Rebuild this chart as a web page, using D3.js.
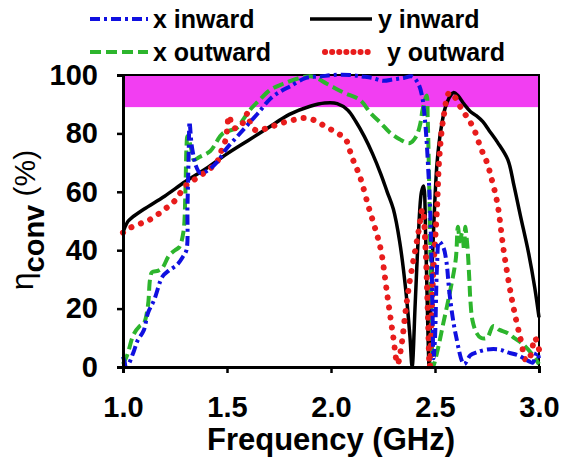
<!DOCTYPE html>
<html lang="en">
<head>
<meta charset="utf-8">
<title>Conversion efficiency</title>
<script src="https://cdn.jsdelivr.net/npm/d3@7"></script>
<style>
  body { margin: 0; background: #fff; }
  svg text { font-family: "Liberation Sans", Arial, sans-serif; font-weight: bold; fill: #000; }
</style>
</head>
<body>
<div id="chart"></div>
<script>
// [frequency GHz, efficiency %]
var xInward = [[1.0,3.5],[1.02,0.5],[1.05,5],[1.07,9],[1.1,12.6],[1.12,18.5],[1.15,23],[1.19,31],[1.22,33],[1.26,35],
  [1.29,38],[1.305,40],[1.31,55],[1.315,70],[1.32,84],[1.325,80],[1.33,76],[1.34,72],[1.35,69],[1.37,66.5],[1.4,67],
  [1.45,70],[1.5,75],[1.55,79],[1.6,83],[1.65,87],[1.71,92],[1.76,94.5],[1.8,96],[1.88,99],[1.95,99.5],[2.01,100],
  [2.09,100],[2.15,99.5],[2.2,99],[2.25,98],[2.3,98.5],[2.35,99],[2.39,99.5],[2.42,97],[2.44,92],[2.45,86],[2.46,77],
  [2.468,67],[2.475,57],[2.482,40],[2.488,20],[2.493,3],[2.5,10],[2.51,35],[2.52,43],[2.54,41],[2.555,36],[2.57,25],
  [2.6,11],[2.64,1],[2.67,4],[2.7,5],[2.75,6],[2.81,6],[2.85,5],[2.9,4],[2.95,2],[2.97,1.5],[2.99,5],[3.0,3]];

var xOutward = [[1.0,1],[1.02,4],[1.05,11],[1.08,14],[1.1,15],[1.12,21],[1.13,30],[1.14,32.5],[1.17,33],[1.19,34],
  [1.22,38],[1.25,40],[1.27,41],[1.29,46],[1.3,60],[1.305,75],[1.31,79],[1.32,77],[1.33,74],[1.34,71],[1.37,72],
  [1.42,74],[1.48,80],[1.55,82],[1.58,85],[1.61,88],[1.65,91],[1.71,95],[1.77,97],[1.85,99],[1.91,99.5],[1.98,97],
  [2.06,94],[2.14,91.4],[2.19,87],[2.24,83.5],[2.28,80.5],[2.33,78],[2.38,76.7],[2.41,79],[2.43,83.5],[2.44,88],
  [2.46,93],[2.465,85],[2.47,70],[2.475,50],[2.48,30],[2.485,12],[2.49,0],[2.51,5],[2.54,15],[2.57,25],[2.6,37],
  [2.61,48],[2.62,43],[2.63,46],[2.64,40],[2.645,48],[2.655,42],[2.665,30],[2.67,23],[2.68,16],[2.7,11.6],[2.72,10],
  [2.75,10],[2.78,14],[2.81,12.7],[2.85,11.6],[2.88,10],[2.92,8],[2.96,5],[3.0,1]];

var yInward = [[1.0,46],[1.01,48],[1.025,50],[1.04,51],[1.1,54],[1.2,58.5],[1.3,63.5],[1.4,68],[1.5,73],[1.6,77.5],
  [1.7,82],[1.8,86.5],[1.9,89.3],[1.97,90.4],[2.03,90.2],[2.08,88],[2.12,84],[2.16,79],[2.2,73],[2.24,66],[2.27,60],
  [2.3,54],[2.33,43],[2.36,26],[2.38,10],[2.39,0],[2.405,22],[2.42,45],[2.435,60],[2.445,62],[2.455,45],[2.465,15],
  [2.472,0],[2.48,22],[2.495,50],[2.51,70],[2.53,82],[2.55,89],[2.575,93],[2.59,94],[2.61,93],[2.64,90],[2.67,87.5],
  [2.7,86],[2.73,84],[2.76,81],[2.8,77],[2.85,71],[2.88,62],[2.91,52],[2.95,39],[2.98,27],[3.0,17]];

var yOutward = [[1.0,46],[1.03,47.5],[1.08,49],[1.13,50.5],[1.2,54],[1.25,57],[1.3,62],[1.35,64.5],[1.4,67],[1.45,70],
  [1.47,73.5],[1.49,77],[1.5,81],[1.51,86],[1.53,82],[1.56,82],[1.58,84],[1.6,87],[1.61,84],[1.64,81],[1.7,82],
  [1.76,83.5],[1.82,84.6],[1.87,85.3],[1.92,84.5],[1.97,82.5],[2.02,80.5],[2.07,78],[2.1,72],[2.14,65],[2.18,55],
  [2.21,48],[2.24,40],[2.27,25],[2.3,10],[2.32,1],[2.34,8],[2.36,20],[2.38,30],[2.4,38],[2.42,46],[2.44,54],
  [2.455,40],[2.465,20],[2.475,0],[2.49,30],[2.51,55],[2.52,71],[2.54,85],[2.57,94],[2.6,92],[2.63,88],[2.66,85],
  [2.69,81],[2.72,75],[2.75,70],[2.77,65],[2.8,56],[2.83,40],[2.87,23],[2.91,10],[2.94,2],[2.96,4],[2.98,10],[3.0,6]];

var seriesNames = ["x inward", "x outward", "y inward", "y outward"];
var bandRange = [89, 100];
var xTicks = [1.0, 1.5, 2.0, 2.5, 3.0];
var yTicks = [0, 20, 40, 60, 80, 100];

var w = 562, h = 463;
var plotLeft = 123, plotRight = 539, plotTop = 75, plotBottom = 367;

var styles = {
  "x inward":  { color: "#1010e0", width: 4,   dash: "10 4 3 4", cap: "butt" },
  "x outward": { color: "#2db52d", width: 4,   dash: "11 5",     cap: "butt" },
  "y inward":  { color: "#000000", width: 3.5, dash: null,       cap: "butt" },
  "y outward": { color: "#e81c1c", width: 6,   dash: "0.1 10",   cap: "round" }
};

var svg = d3.select("#chart").append("svg")
  .attr("width", w).attr("height", h);

var x = d3.scaleLinear().domain([1, 3]).range([plotLeft, plotRight]);
var y = d3.scaleLinear().domain([0, 100]).range([plotBottom, plotTop]);

// magenta band
svg.append("rect")
  .attr("x", x(1)).attr("width", x(3) - x(1))
  .attr("y", y(bandRange[1])).attr("height", y(bandRange[0]) - y(bandRange[1]))
  .attr("fill", "#f23ef2");

// frame
svg.append("rect")
  .attr("x", plotLeft).attr("y", plotTop)
  .attr("width", plotRight - plotLeft).attr("height", plotBottom - plotTop)
  .attr("fill", "none").attr("stroke", "#000").attr("stroke-width", 2);

var line = d3.line()
  .x(function(d){ return x(d[0]); })
  .y(function(d){ return y(d[1]); })
  .curve(d3.curveCatmullRom.alpha(0.5));

var plot = svg.append("g");
var drawOrder = [["y inward", yInward], ["x outward", xOutward], ["y outward", yOutward], ["x inward", xInward]];
drawOrder.forEach(function(s){
  var st = styles[s[0]];
  plot.append("path")
    .datum(s[1])
    .attr("d", line)
    .attr("fill", "none")
    .attr("stroke", st.color)
    .attr("stroke-width", st.width)
    .attr("stroke-dasharray", st.dash)
    .attr("stroke-linecap", st.cap)
    .attr("stroke-linejoin", "round");
});

// axes
var xAxis = svg.append("g")
  .attr("transform", "translate(0," + plotBottom + ")")
  .call(d3.axisBottom(x).tickValues(xTicks).tickFormat(d3.format(".1f")).tickSize(6).tickPadding(23));
var yAxis = svg.append("g")
  .attr("transform", "translate(" + plotLeft + ",0)")
  .call(d3.axisLeft(y).tickValues(yTicks).tickFormat(d3.format("d")).tickSize(6).tickPadding(19));
[xAxis, yAxis].forEach(function(a){
  a.select(".domain").attr("stroke-width", 3).attr("stroke", "#000");
  a.selectAll(".tick line").attr("stroke-width", 2.5).attr("stroke", "#000");
  a.selectAll(".tick text").style("font-size", "29px").style("font-family", "Liberation Sans, Arial, sans-serif")
    .style("font-weight", "bold");
});

svg.append("text")
  .attr("x", (plotLeft + plotRight) / 2).attr("y", 450)
  .attr("text-anchor", "middle")
  .style("font-size", "31px")
  .text("Frequency (GHz)");

var yl = svg.append("text")
  .attr("transform", "translate(33,220) rotate(-90)")
  .attr("text-anchor", "middle");
yl.append("tspan").style("font-size", "32px").style("font-weight", "normal").text("\u03b7");
yl.append("tspan").style("font-size", "29px").attr("dy", 11).text("conv");
yl.append("tspan").style("font-size", "30px").style("font-weight", "normal").attr("dy", -9).text(" (%)");

// legend
var legendPos = {
  "x inward":  { x1: 90,  x2: 148, y: 19, tx: 153 },
  "x outward": { x1: 90,  x2: 148, y: 52, tx: 153 },
  "y inward":  { x1: 310, x2: 372, y: 19, tx: 378 },
  "y outward": { x1: 325, x2: 368, y: 52, tx: 387 }
};
var legend = svg.append("g");
seriesNames.forEach(function(name){
  var st = styles[name], p = legendPos[name];
  legend.append("line")
    .attr("x1", p.x1).attr("x2", p.x2).attr("y1", p.y).attr("y2", p.y)
    .attr("stroke", st.color)
    .attr("stroke-width", st.width)
    .attr("stroke-dasharray", name === "y outward" ? "0.1 7" : st.dash)
    .attr("stroke-linecap", st.cap);
  legend.append("text")
    .attr("x", p.tx).attr("y", p.y + 9)
    .style("font-size", "25px")
    .text(name);
});
</script>
</body>
</html>
